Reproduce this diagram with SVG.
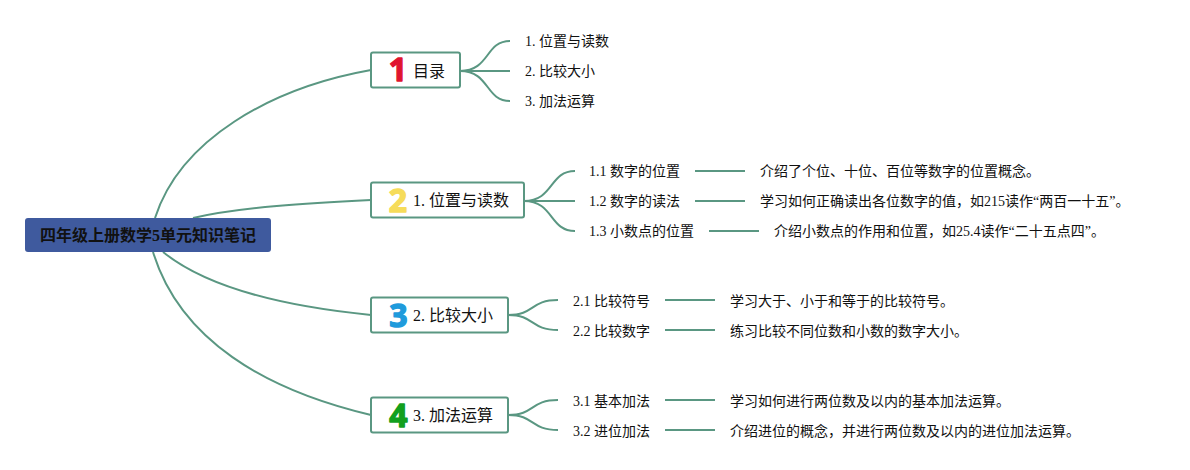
<svg xmlns="http://www.w3.org/2000/svg" width="1190" height="470" viewBox="0 0 1190 470">
<style>
text{font-family:"Liberation Serif","Noto Sans CJK SC",serif;fill:#111}
.root{font-size:16px;font-weight:700}
.main{font-size:16px}
.leaf{font-size:14px}
.box{fill:#fff;stroke:#5a9782;stroke-width:2}
.ico{font-family:"Open Sans","Liberation Sans",sans-serif;font-size:32px;font-weight:700;text-anchor:middle;stroke-width:1.4;stroke-linejoin:round}
.c1{fill:#e0142f;stroke:#e0142f}
.c2{fill:#f6dc5a;stroke:#f6dc5a}
.c3{fill:#1f9bdc;stroke:#1f9bdc}
.c4{fill:#12a01e;stroke:#12a01e}
#connectors path{fill:none;stroke:#5a9782;stroke-width:2}
</style>
<rect width="1190" height="470" fill="#fff"/>
<g id="connectors">
<path d="M155 218C180 140 270 88 371 70"/>
<path d="M193 218C240 207 310 203 371 200"/>
<path d="M163 252C210 290 290 307 371 315"/>
<path d="M153 252C180 340 265 390 371 415"/>
<path d="M460 71C490 71 485 41 510 41"/>
<path d="M460 71H510"/>
<path d="M460 71C490 71 485 101 510 101"/>
<path d="M524 201C554 201 549 171 575 171"/>
<path d="M524 201H575"/>
<path d="M524 201C554 201 549 231 575 231"/>
<path d="M508 315C535 315 530 300 558 300"/>
<path d="M508 315C535 315 530 330 558 330"/>
<path d="M508 415C535 415 530 400 558 400"/>
<path d="M508 415C535 415 530 430 558 430"/>
<path d="M695 171H745"/>
<path d="M695 201H745"/>
<path d="M709 231H759"/>
<path d="M665 300H715"/>
<path d="M665 330H715"/>
<path d="M665 400H715"/>
<path d="M665 430H715"/>
</g>
<g id="root"><rect x="25" y="218" width="246" height="34" rx="3" fill="#3f5a9e"/><text class="root" x="40" y="241">四年级上册数学5单元知识笔记</text></g>
<g id="n0"><rect class="box" x="371" y="52.5" width="89" height="35" rx="2"/><text class="ico c1" x="398" y="81">1</text><text class="main" x="413" y="77">目录</text></g>
<g id="n1"><rect class="box" x="371" y="182.5" width="153" height="35" rx="2"/><text class="ico c2" x="398" y="212">2</text><text class="main" x="413" y="206">1. 位置与读数</text></g>
<g id="n2"><rect class="box" x="371" y="297.5" width="137" height="35" rx="2"/><text class="ico c3" x="398.5" y="326.5">3</text><text class="main" x="413" y="321">2. 比较大小</text></g>
<g id="n3"><rect class="box" x="371" y="397.5" width="137" height="35" rx="2"/><text class="ico c4" x="398.5" y="427">4</text><text class="main" x="413" y="421">3. 加法运算</text></g>
<g id="l0" class="leaf"><text x="525" y="46">1. 位置与读数</text><text x="525" y="76">2. 比较大小</text><text x="525" y="106">3. 加法运算</text></g>
<g id="l1" class="leaf"><text x="589" y="176">1.1 数字的位置</text><text x="589" y="206">1.2 数字的读法</text><text x="589" y="236">1.3 小数点的位置</text>
<text x="760" y="176">介绍了个位、十位、百位等数字的位置概念。</text><text x="760" y="206">学习如何正确读出各位数字的值，如215读作“两百一十五”。</text><text x="774" y="236">介绍小数点的作用和位置，如25.4读作“二十五点四”。</text></g>
<g id="l2" class="leaf"><text x="573" y="306">2.1 比较符号</text><text x="573" y="336">2.2 比较数字</text>
<text x="730" y="306">学习大于、小于和等于的比较符号。</text><text x="730" y="336">练习比较不同位数和小数的数字大小。</text></g>
<g id="l3" class="leaf"><text x="573" y="406">3.1 基本加法</text><text x="573" y="436">3.2 进位加法</text>
<text x="730" y="406">学习如何进行两位数及以内的基本加法运算。</text><text x="730" y="436">介绍进位的概念，并进行两位数及以内的进位加法运算。</text></g>
</svg>
